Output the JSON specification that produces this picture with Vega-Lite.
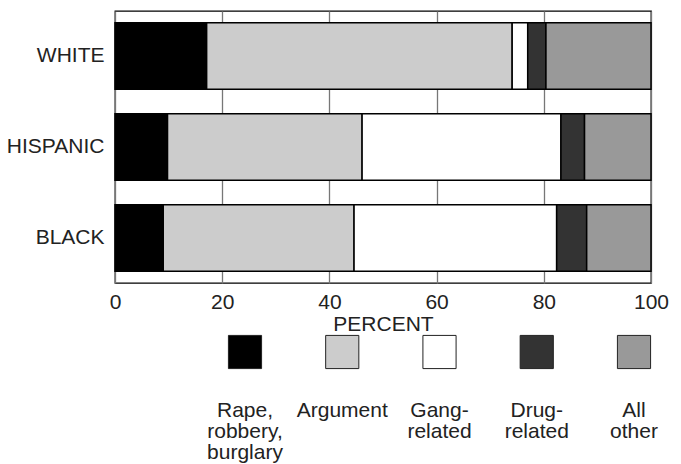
{
  "$schema": "https://vega.github.io/schema/vega-lite/v6.json",
  "padding": {"left": 5, "top": 10, "right": 5, "bottom": 5},
  "background": "white",
  "config": {
    "font": "Liberation Sans",
    "view": {"stroke": null},
    "axis": {"labelFont": "Liberation Sans", "titleFont": "Liberation Sans", "labelColor": "#222222", "titleColor": "#222222"}
  },
  "datasets": {
    "bars": [
      {"race": "WHITE", "cause": "Rape, robbery, burglary", "k": 1, "pct": 17.1},
      {"race": "WHITE", "cause": "Argument", "k": 2, "pct": 57.0},
      {"race": "WHITE", "cause": "Gang-related", "k": 3, "pct": 2.9},
      {"race": "WHITE", "cause": "Drug-related", "k": 4, "pct": 3.4},
      {"race": "WHITE", "cause": "All other", "k": 5, "pct": 19.6},
      {"race": "HISPANIC", "cause": "Rape, robbery, burglary", "k": 1, "pct": 9.8},
      {"race": "HISPANIC", "cause": "Argument", "k": 2, "pct": 36.3},
      {"race": "HISPANIC", "cause": "Gang-related", "k": 3, "pct": 37.1},
      {"race": "HISPANIC", "cause": "Drug-related", "k": 4, "pct": 4.4},
      {"race": "HISPANIC", "cause": "All other", "k": 5, "pct": 12.4},
      {"race": "BLACK", "cause": "Rape, robbery, burglary", "k": 1, "pct": 9.0},
      {"race": "BLACK", "cause": "Argument", "k": 2, "pct": 35.6},
      {"race": "BLACK", "cause": "Gang-related", "k": 3, "pct": 37.8},
      {"race": "BLACK", "cause": "Drug-related", "k": 4, "pct": 5.6},
      {"race": "BLACK", "cause": "All other", "k": 5, "pct": 12.0}
    ],
    "legend": [
      {"cause": "Rape, robbery, burglary", "label": "Rape,\nrobbery,\nburglary"},
      {"cause": "Argument", "label": "Argument"},
      {"cause": "Gang-related", "label": "Gang-\nrelated"},
      {"cause": "Drug-related", "label": "Drug-\nrelated"},
      {"cause": "All other", "label": "All\nother"}
    ]
  },
  "vconcat": [
    {
      "width": 536,
      "height": 272,
      "data": {"name": "bars"},
      "view": {"stroke": "#000000", "strokeWidth": 1.3},
      "mark": {"type": "bar", "stroke": "#000000", "strokeWidth": 1.5},
      "encoding": {
        "y": {
          "field": "race", "type": "nominal",
          "sort": ["WHITE", "HISPANIC", "BLACK"],
          "scale": {"paddingInner": 0.27, "paddingOuter": 0.13},
          "axis": {"title": null, "domain": false, "ticks": false, "tickSize": 0, "labelPadding": 11, "labelFontSize": 21}
        },
        "x": {
          "field": "pct", "type": "quantitative", "stack": "zero",
          "scale": {"domain": [0, 100], "nice": false},
          "axis": {"title": "PERCENT", "values": [0, 20, 40, 60, 80, 100], "domain": false, "ticks": false, "tickSize": 0,
                   "grid": true, "gridColor": "#777777", "gridWidth": 1.3, "gridOpacity": 1, "labelFlush": false,
                   "labelPadding": 8, "labelFontSize": 21, "titleFontSize": 21, "titleFontWeight": "normal", "titlePadding": 1}
        },
        "color": {
          "field": "cause", "type": "nominal", "legend": null,
          "scale": {"domain": ["Rape, robbery, burglary", "Argument", "Gang-related", "Drug-related", "All other"],
                    "range": ["#000000", "#cccccc", "#ffffff", "#333333", "#999999"]}
        },
        "order": {"field": "k", "type": "quantitative"}
      }
    },
    {
      "width": 536,
      "height": 34,
      "data": {"name": "legend"},
      "encoding": {
        "x": {
          "field": "cause", "type": "nominal",
          "sort": ["Rape, robbery, burglary", "Argument", "Gang-related", "Drug-related", "All other"],
          "scale": {"type": "point", "range": [130, 519], "padding": 0},
          "axis": null
        }
      },
      "layer": [
        {
          "mark": {"type": "point", "shape": "square", "filled": true, "size": 1100, "stroke": "#222222", "strokeWidth": 1, "opacity": 1},
          "encoding": {
            "color": {
              "field": "cause", "type": "nominal", "legend": null,
              "scale": {"domain": ["Rape, robbery, burglary", "Argument", "Gang-related", "Drug-related", "All other"],
                        "range": ["#000000", "#cccccc", "#ffffff", "#333333", "#999999"]}
            }
          }
        },
        {
          "mark": {"type": "text", "fontSize": 21, "font": "Liberation Sans", "color": "#222222", "align": "center", "baseline": "alphabetic", "lineBreak": "\n", "lineHeight": 21, "dy": 65},
          "encoding": {"text": {"field": "label"}}
        }
      ]
    }
  ],
  "spacing": -7
}
